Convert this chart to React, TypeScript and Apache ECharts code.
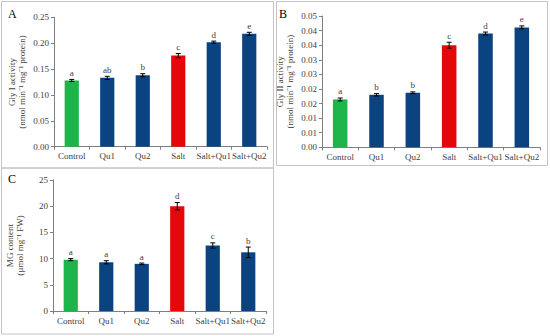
import React, { useEffect, useRef } from "react";
import * as echarts from "echarts";

const categories = ["Control", "Qu1", "Qu2", "Salt", "Salt+Qu1", "Salt+Qu2"];

const glyIValues = [0.128, 0.133, 0.138, 0.176, 0.202, 0.218];
const glyIErrors = [0.002, 0.003, 0.003, 0.004, 0.002, 0.003];
const glyILetters = ["a", "ab", "b", "c", "d", "e"];
const glyITicks = ["0.00", "0.05", "0.10", "0.15", "0.20", "0.25"];

const glyIIValues = [0.0164, 0.018, 0.0187, 0.035, 0.039, 0.0411];
const glyIIErrors = [0.0005, 0.0004, 0.0003, 0.001, 0.0005, 0.0005];
const glyIILetters = ["a", "b", "b", "c", "d", "e"];
const glyIITicks = ["0.00", "0.01", "0.01", "0.02", "0.02", "0.03", "0.03", "0.04", "0.04", "0.05"];

const mgValues = [9.8, 9.3, 9.0, 20.0, 12.5, 11.2];
const mgErrors = [0.2, 0.3, 0.15, 0.7, 0.5, 1.0];
const mgLetters = ["a", "a", "a", "d", "c", "b"];
const mgTicks = ["0", "5", "10", "15", "20", "25"];

const barColors = ["#1db54a", "#0a437f", "#0a437f", "#e50808", "#0a437f", "#0a437f"];

const FONT = "'Liberation Serif', 'Times New Roman', serif";
const TXT = "#404040";
const AXIS = "#7f7f7f";

function errSeries(gridIndex: number, values: number[], errors: number[], letters: string[]) {
  return {
    type: "custom",
    xAxisIndex: gridIndex,
    yAxisIndex: gridIndex,
    z: 5,
    data: values.map((v, i) => [i, v, errors[i], letters[i]]),
    renderItem: (params: any, api: any) => {
      const i = api.value(0);
      const v = api.value(1);
      const e = api.value(2);
      const top = api.coord([i, v + e]);
      const bot = api.coord([i, v - e]);
      const cap = 2.5;
      const letter = letters[params.dataIndex];
      return {
        type: "group",
        children: [
          { type: "line", shape: { x1: top[0], y1: top[1], x2: bot[0], y2: bot[1] }, style: { stroke: "#000", lineWidth: 1 } },
          { type: "line", shape: { x1: top[0] - cap, y1: top[1], x2: top[0] + cap, y2: top[1] }, style: { stroke: "#000", lineWidth: 1 } },
          { type: "line", shape: { x1: bot[0] - cap, y1: bot[1], x2: bot[0] + cap, y2: bot[1] }, style: { stroke: "#000", lineWidth: 1 } },
          {
            type: "text",
            x: top[0],
            y: top[1] - 2,
            style: { text: letter, fill: TXT, font: `9px ${FONT}`, align: "center", verticalAlign: "bottom" },
          },
        ],
      };
    },
  };
}

function barSeries(gridIndex: number, values: number[]) {
  return {
    type: "bar",
    xAxisIndex: gridIndex,
    yAxisIndex: gridIndex,
    barWidth: "40%",
    data: values.map((v, i) => ({ value: v, itemStyle: { color: barColors[i] } })),
  };
}

function xAxis(gridIndex: number) {
  return {
    type: "category",
    gridIndex,
    data: categories,
    axisLine: { lineStyle: { color: AXIS, width: 1 } },
    axisTick: { show: true, length: 3, lineStyle: { color: AXIS } },
    axisLabel: { interval: 0, color: TXT, fontFamily: FONT, fontSize: 9, margin: 5 },
  };
}

function yAxis(gridIndex: number, max: number, interval: number, ticks: string[], name: string, nameGap: number) {
  return {
    type: "value",
    gridIndex,
    min: 0,
    max,
    interval,
    name,
    nameLocation: "middle",
    nameRotate: 90,
    nameGap,
    nameTextStyle: { color: TXT, fontFamily: FONT, fontSize: 9, lineHeight: 10, align: "center" },
    splitLine: { show: false },
    axisLine: { show: true, lineStyle: { color: AXIS, width: 1 } },
    axisTick: { show: true, length: 3, lineStyle: { color: AXIS } },
    axisLabel: {
      color: TXT,
      fontFamily: FONT,
      fontSize: 9,
      margin: 5,
      formatter: (v: number) => ticks[Math.round(v / interval)] ?? "",
    },
  };
}

export default function App() {
  const ref = useRef<HTMLDivElement>(null);
  useEffect(() => {
    if (!ref.current) return;
    const chart = echarts.init(ref.current, null, { renderer: "svg" });
    chart.setOption({
      animation: false,
      backgroundColor: "#ffffff",
      grid: [
        { left: 54, top: 17.3, right: 283, bottom: 189.3 },
        { left: 322, top: 16, right: 10, bottom: 188.7 },
        { left: 53, top: 180, right: 284, bottom: 25 },
      ],
      xAxis: [xAxis(0), xAxis(1), xAxis(2)],
      yAxis: [
        yAxis(0, 0.25, 0.05, glyITicks, "Gly I activity\n(nmol min⁻¹ mg⁻¹ protein)", 27),
        yAxis(1, 0.045, 0.005, glyIITicks, "Gly II activity\n(nmol min⁻¹ mg⁻¹ protein)", 27),
        yAxis(2, 25, 5, mgTicks, "MG content\n(µmol mg⁻¹ FW)", 28),
      ],
      series: [
        barSeries(0, glyIValues),
        errSeries(0, glyIValues, glyIErrors, glyILetters),
        barSeries(1, glyIIValues),
        errSeries(1, glyIIValues, glyIIErrors, glyIILetters),
        barSeries(2, mgValues),
        errSeries(2, mgValues, mgErrors, mgLetters),
      ],
      graphic: [
        { type: "rect", shape: { x: 1.5, y: 1.5, width: 272, height: 166.5 }, style: { fill: "none", stroke: "#c4c4c4", lineWidth: 1 } },
        { type: "rect", shape: { x: 276.5, y: 1.5, width: 271, height: 164 }, style: { fill: "none", stroke: "#c4c4c4", lineWidth: 1 } },
        { type: "rect", shape: { x: 1.5, y: 168, width: 272, height: 166 }, style: { fill: "none", stroke: "#c4c4c4", lineWidth: 1 } },
        { type: "text", x: 8, y: 14, style: { text: "A", fill: "#000", font: `12px ${FONT}`, verticalAlign: "middle" } },
        { type: "text", x: 279, y: 14, style: { text: "B", fill: "#000", font: `12px ${FONT}`, verticalAlign: "middle" } },
        { type: "text", x: 8, y: 179, style: { text: "C", fill: "#000", font: `12px ${FONT}`, verticalAlign: "middle" } },
      ],
    });
    return () => chart.dispose();
  }, []);
  return (
    <div
      ref={ref}
      style={{ position: "fixed", left: 0, top: 0, width: 550, height: 336, background: "#fff" }}
    />
  );
}
